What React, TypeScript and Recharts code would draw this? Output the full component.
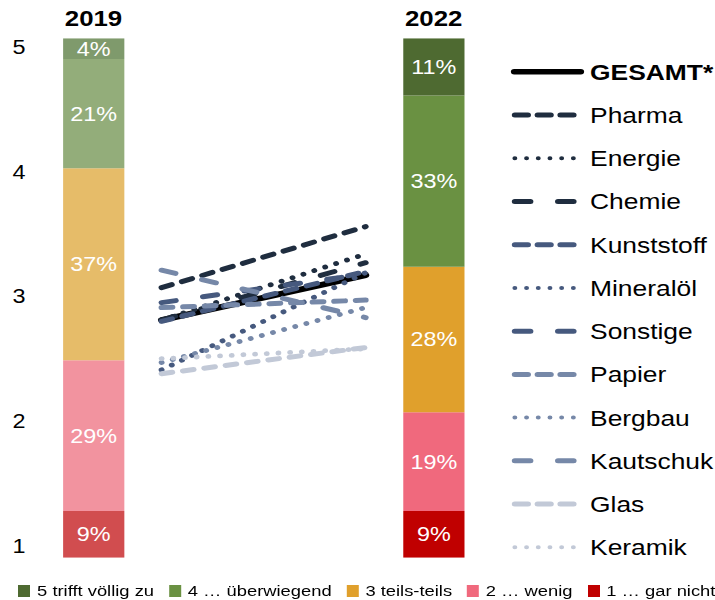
import React from 'react';
import { ComposedChart, Bar, Line, XAxis, YAxis, Legend, LabelList, Cell } from 'recharts';

// ---- data ----
const slots = ['2019', 'start', 'gapA', 'gapB', 'end', '2022'];
const yearLabels: Record<string, string> = { '2019': '2019', '2022': '2022' };

const levelKeys = ['l1', 'l2', 'l3', 'l4', 'l5'];
const levelNames = ['1 … gar nicht', '2 … wenig', '3 teils-teils', '4 … überwiegend', '5 trifft völlig zu'];
const share2019 = [9, 29, 37, 21, 4];
const share2022 = [9, 19, 28, 33, 11];
const levelColors = ['#c00000', '#f0697d', '#e0a02c', '#6a9142', '#4e6a31'];
const levelColorsPale = ['#d14d4f', '#f2939f', '#e6bc69', '#93ad7a', '#7f9a6c'];

const industryKeys = ['gesamt', 'pharma', 'energie', 'chemie', 'kunststoff', 'mineraloel', 'sonstige', 'papier', 'bergbau', 'kautschuk', 'glas', 'keramik'];
const industryNames = ['GESAMT*', 'Pharma', 'Energie', 'Chemie', 'Kunststoff', 'Mineralöl', 'Sonstige', 'Papier', 'Bergbau', 'Kautschuk', 'Glas', 'Keramik'];
const score2019 = [2.81, 3.07, 2.81, 2.81, 2.8, 2.41, 2.95, 2.91, 2.47, 3.21, 2.38, 2.5];
const score2022 = [3.17, 3.56, 3.34, 3.27, 3.2, 3.19, 3.18, 2.97, 2.91, 2.83, 2.59, 2.58];
const scoreTicks = [1, 2, 3, 4, 5];

// ---- styles ----
const industryColors = ['#000000', '#1f2d3f', '#1f2d3f', '#1f2d3f', '#46597e', '#46597e', '#46597e', '#7688a8', '#7688a8', '#7688a8', '#c2c9d7', '#c2c9d7'];
const SHORT = '9 9';
const DOT = '0.1 9.65';
const LONG = '12 23';
const industryDash = [undefined, SHORT, DOT, LONG, SHORT, DOT, LONG, SHORT, DOT, LONG, SHORT, DOT];
const industryWidth = [6, 5, 4.8, 5, 5, 4.8, 5, 5, 4.8, 5, 5, 4.8];

const data = slots.map((name, i) => {
  const row: Record<string, any> = { name };
  if (i === 0) levelKeys.forEach((k, j) => (row[k] = share2019[j]));
  if (i === 5) levelKeys.forEach((k, j) => (row[k] = share2022[j]));
  if (i === 1) industryKeys.forEach((k, j) => (row[k] = score2019[j]));
  if (i === 4) industryKeys.forEach((k, j) => (row[k] = score2022[j]));
  return row;
});

const W = 596;
const H = 600;
const FONT = '"Liberation Sans", Arial, sans-serif';

const YearTick = (props: any) => {
  const { x, payload } = props;
  const label = yearLabels[payload.value] || '';
  if (!label) return null;
  return (
    <text x={x} y={18.7} dy="0.36em" textAnchor="middle" fontFamily={FONT} fontSize={21.5} fontWeight="bold" fill="#000">
      {label}
    </text>
  );
};

const ScoreTick = (props: any) => {
  const { y, payload } = props;
  return (
    <text x={15.8} y={y} dy="0.36em" textAnchor="middle" fontFamily={FONT} fontSize={19.5} fill="#000">
      {payload.value}
    </text>
  );
};

const LegendContent = (props: any) => {
  const payload: any[] = props.payload || [];
  const lines = industryKeys
    .map((k) => payload.find((p) => p.dataKey === k))
    .filter(Boolean);
  const bars = [...levelKeys].reverse()
    .map((k) => payload.find((p) => p.dataKey === k))
    .filter(Boolean);
  return (
    <div style={{ position: 'relative', width: W, height: H, fontFamily: FONT }}>
      <svg width={W} height={H} style={{ position: 'absolute', left: 0, top: 0 }}>
        {lines.map((p: any, i: number) => {
          const idx = industryKeys.indexOf(p.dataKey);
          const y = 71.7 + 43.24 * i;
          const isTotal = idx === 0;
          return (
            <g key={p.dataKey}>
              <line
                x1={isTotal ? 428.5 : 429}
                x2={isTotal ? 484 : 478}
                y1={y}
                y2={y}
                stroke={p.color}
                strokeWidth={isTotal ? 5.5 : industryDash[idx] === DOT ? 4 : 5}
                strokeDasharray={industryDash[idx] === LONG ? '13 23' : industryDash[idx] === SHORT ? '11 8' : industryDash[idx]}
                strokeLinecap="round"
              />
              <text x={491.7} y={y} dy="0.36em" fontFamily={FONT} fontSize={22} fontWeight={isTotal ? 'bold' : 'normal'} fill="#000">
                {p.value}
              </text>
            </g>
          );
        })}
      </svg>
      <div style={{ position: 'absolute', left: 15.3, top: 581, width: 600, display: 'flex', alignItems: 'center', gap: 12.5, whiteSpace: 'nowrap' }}>
        {bars.map((p: any) => (
          <div key={p.dataKey} style={{ display: 'flex', alignItems: 'center', flexShrink: 0 }}>
            <span style={{ display: 'inline-block', width: 10, height: 12, background: p.color, marginRight: 5.6 }} />
            <span style={{ fontSize: 15.3, lineHeight: '20px', color: '#000' }}>{p.value}</span>
          </div>
        ))}
      </div>
    </div>
  );
};

export default function App() {
  return (
    <div style={{ position: 'absolute', left: 0, top: 0, width: W, height: H, transform: 'scaleX(1.2)', transformOrigin: '0 0', fontFamily: FONT, background: '#fff' }}>
      <ComposedChart width={W} height={H} data={data} margin={{ top: 8.3, right: 206.25, bottom: 42.3, left: 0.6 }} barCategoryGap={0}>
        <XAxis dataKey="name" xAxisId="x" orientation="top" height={30} axisLine={false} tickLine={false} interval={0} tick={<YearTick />} />
        <YAxis yAxisId="score" type="number" domain={[0.904, 5.07]} ticks={scoreTicks} allowDataOverflow axisLine={false} tickLine={false} width={49} tick={<ScoreTick />} />
        <YAxis yAxisId="pct" type="number" domain={[0, 100]} hide allowDataOverflow />
        {levelKeys.map((k, j) => (
          <Bar key={k} dataKey={k} name={levelNames[j]} stackId="s" xAxisId="x" yAxisId="pct" fill={levelColors[j]} barSize={57.5} isAnimationActive={false}>
            {data.map((row, i) => (
              <Cell key={i} fill={i === 0 ? levelColorsPale[j] : levelColors[j]} />
            ))}
            <LabelList
              dataKey={k}
              position="center"
              fill="#ffffff"
              fontSize={19.5}
              fontFamily={FONT}
              formatter={(v: any) => (v === undefined || v === null ? '' : `${v}%`)}
            />
          </Bar>
        ))}
        {industryKeys.map((k, j) => (
          <Line
            key={k}
            dataKey={k}
            name={industryNames[j]}
            xAxisId="x"
            yAxisId="score"
            stroke={industryColors[j]}
            strokeWidth={industryWidth[j]}
            strokeDasharray={industryDash[j]}
            strokeLinecap="round"
            dot={false}
            activeDot={false}
            connectNulls
            isAnimationActive={false}
          />
        ))}
        <Legend
          layout="horizontal"
          verticalAlign="middle"
          align="center"
          content={<LegendContent />}
          wrapperStyle={{ left: 0, top: 0, width: W, height: H, margin: 0, padding: 0 }}
        />
      </ComposedChart>
    </div>
  );
}
